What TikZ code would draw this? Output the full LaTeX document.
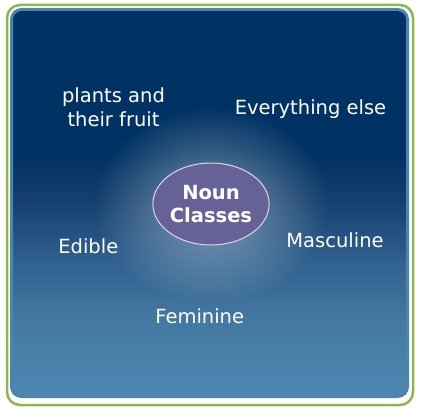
\documentclass[tikz,border=0pt]{standalone}
\usepackage{fontspec}
\setmainfont{DejaVu Sans}
\usetikzlibrary{shapes.geometric, fadings}
\definecolor{framegreen}{RGB}{140,184,74}
\definecolor{panelrim}{RGB}{76,132,176}
\definecolor{paneltop}{RGB}{1,50,100}
\definecolor{panelhigh}{RGB}{20,62,110}
\definecolor{panelmid}{RGB}{48,96,142}
\definecolor{panellow}{RGB}{68,120,162}
\definecolor{panelbot}{RGB}{77,137,178}
\definecolor{nounpurple}{RGB}{102,98,152}
\pgfdeclareverticalshading{panelshade}{100bp}{color(0bp)=(panelbot); color(25bp)=(panelbot);
  color(35bp)=(panellow); color(42.7bp)=(panelmid); color(50.5bp)=(panelhigh);
  color(56bp)=(paneltop); color(100bp)=(paneltop)}
\tikzfading[name=glowfade, inner color=transparent!55, outer color=transparent!100]

\begin{document}
\begin{tikzpicture}[x=1pt, y=1pt,
    classtext/.style={text=white, font=\fontsize{19.5}{24.3}\selectfont, align=center, inner sep=0pt}]
  \useasboundingbox (0,0) rectangle (423,408);
  % frame and panel
  \draw[framegreen, line width=2.5pt, rounded corners=13pt] (7,3) rectangle (413,403);
  \shade[shading=panelshade, draw=panelrim, line width=3pt, rounded corners=10pt] (11.5,11.5) rectangle (407.5,398.5);
  \fill[white, path fading=glowfade] (211,203) ellipse (118 and 98);
  % centre
  \node[ellipse, fill=nounpurple, draw=white!75!nounpurple, line width=1pt, minimum width=116pt,
        minimum height=82pt, inner sep=0pt, text=white, align=center,
        font=\bfseries\fontsize{19.5}{23.6}\selectfont] (nc) at (211,204) {Noun\\Classes};
  % classes
  \node[classtext, anchor=base] (plants) at (113.5,281.3) {plants and\\their fruit};
  \node[classtext, anchor=base] (else) at (310.5,294) {Everything else};
  \node[classtext, anchor=base] (edible) at (88.3,154.7) {Edible};
  \node[classtext, anchor=base] (masc) at (335,160.7) {Masculine};
  \node[classtext, anchor=base] (fem) at (199.7,84.7) {Feminine};
\end{tikzpicture}
\end{document}
